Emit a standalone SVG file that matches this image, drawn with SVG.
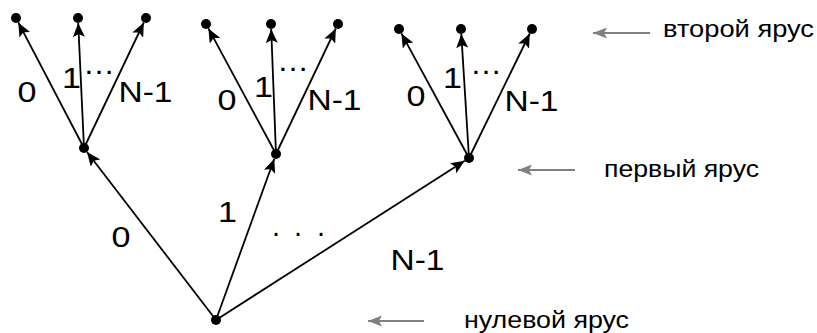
<svg xmlns="http://www.w3.org/2000/svg" width="817" height="333" viewBox="0 0 817 333">
<style>
.dot{fill:#000}
.edge{stroke:#000;stroke-width:1.8;fill:none;marker-end:url(#ah)}
.lvl{stroke:#808080;stroke-width:2;fill:none;marker-end:url(#gh)}
.lbl{font-family:"Liberation Sans",Arial,sans-serif;font-size:29px;fill:#000}
.tier{font-family:"Liberation Sans",Arial,sans-serif;font-size:24px;fill:#000}
</style>
<defs>
<marker id="ah" markerUnits="userSpaceOnUse" markerWidth="15" markerHeight="12" refX="14" refY="6" orient="auto">
<path d="M0,0 L14,6 L0,12 L3,6 Z" fill="#000"/>
</marker>
<marker id="gh" markerUnits="userSpaceOnUse" markerWidth="15" markerHeight="12" refX="14" refY="6" orient="auto">
<path d="M0,0.5 L14,6 L0,11.5 L3,6 Z" fill="#808080"/>
</marker>
</defs>
<g id="connectors">
<line class="edge" x1="84" y1="148" x2="18.3" y2="22.4"/>
<line class="edge" x1="84" y1="148" x2="78.2" y2="23"/>
<line class="edge" x1="84" y1="148" x2="143.8" y2="22.5"/>
<line class="edge" x1="276" y1="154" x2="208.4" y2="28.4"/>
<line class="edge" x1="276" y1="154" x2="271.2" y2="29"/>
<line class="edge" x1="276" y1="154" x2="335.8" y2="28.5"/>
<line class="edge" x1="469" y1="158" x2="401.4" y2="33.4"/>
<line class="edge" x1="469" y1="158" x2="461.3" y2="34"/>
<line class="edge" x1="469" y1="158" x2="529.8" y2="33.5"/>
<line class="edge" x1="216" y1="320" x2="87" y2="152"/>
<line class="edge" x1="216" y1="320" x2="274.3" y2="158.7"/>
<line class="edge" x1="216" y1="320" x2="464.8" y2="160.7"/>
<line class="lvl" x1="650" y1="33" x2="593" y2="33"/>
<line class="lvl" x1="575" y1="170" x2="518" y2="170"/>
<line class="lvl" x1="424" y1="321" x2="368" y2="321"/>
</g>
<g id="root"><circle class="dot" cx="216" cy="320" r="5"/></g>
<g id="n0"><circle class="dot" cx="84" cy="148" r="5"/></g>
<g id="n1"><circle class="dot" cx="276" cy="154" r="5"/></g>
<g id="n2"><circle class="dot" cx="469" cy="158" r="5"/></g>
<g id="n00"><circle class="dot" cx="16" cy="18" r="5"/></g>
<g id="n01"><circle class="dot" cx="78" cy="18" r="5"/></g>
<g id="n02"><circle class="dot" cx="146" cy="18" r="5"/></g>
<g id="n10"><circle class="dot" cx="206" cy="24" r="5"/></g>
<g id="n11"><circle class="dot" cx="271" cy="24" r="5"/></g>
<g id="n12"><circle class="dot" cx="338" cy="24" r="5"/></g>
<g id="n20"><circle class="dot" cx="399" cy="29" r="5"/></g>
<g id="n21"><circle class="dot" cx="461" cy="29" r="5"/></g>
<g id="n22"><circle class="dot" cx="532" cy="29" r="5"/></g>
<g id="labels">
<text class="lbl" x="17.5" y="102" textLength="19" lengthAdjust="spacingAndGlyphs">0</text>
<text class="lbl" x="62" y="88" textLength="19" lengthAdjust="spacingAndGlyphs">1</text>
<text class="lbl" x="83" y="74" textLength="32" lengthAdjust="spacingAndGlyphs">…</text>
<text class="lbl" x="118.5" y="102" textLength="54" lengthAdjust="spacingAndGlyphs">N-1</text>
<text class="lbl" x="217.5" y="110" textLength="19" lengthAdjust="spacingAndGlyphs">0</text>
<text class="lbl" x="254" y="97" textLength="19" lengthAdjust="spacingAndGlyphs">1</text>
<text class="lbl" x="277" y="71" textLength="32" lengthAdjust="spacingAndGlyphs">…</text>
<text class="lbl" x="307.5" y="110" textLength="54" lengthAdjust="spacingAndGlyphs">N-1</text>
<text class="lbl" x="406.5" y="106" textLength="19" lengthAdjust="spacingAndGlyphs">0</text>
<text class="lbl" x="443" y="88" textLength="19" lengthAdjust="spacingAndGlyphs">1</text>
<text class="lbl" x="470" y="74" textLength="32" lengthAdjust="spacingAndGlyphs">…</text>
<text class="lbl" x="504.5" y="111" textLength="54" lengthAdjust="spacingAndGlyphs">N-1</text>
<text class="lbl" x="111.5" y="247" textLength="19" lengthAdjust="spacingAndGlyphs">0</text>
<text class="lbl" x="218" y="222" textLength="19" lengthAdjust="spacingAndGlyphs">1</text>
<text class="lbl" x="272 294 317" y="236">...</text>
<text class="lbl" x="390.5" y="270" textLength="54" lengthAdjust="spacingAndGlyphs">N-1</text>
<text class="tier" x="663" y="37" textLength="151" lengthAdjust="spacingAndGlyphs">второй ярус</text>
<text class="tier" x="604" y="177" textLength="155" lengthAdjust="spacingAndGlyphs">первый ярус</text>
<text class="tier" x="464" y="328" textLength="165" lengthAdjust="spacingAndGlyphs">нулевой ярус</text>
</g>
</svg>
